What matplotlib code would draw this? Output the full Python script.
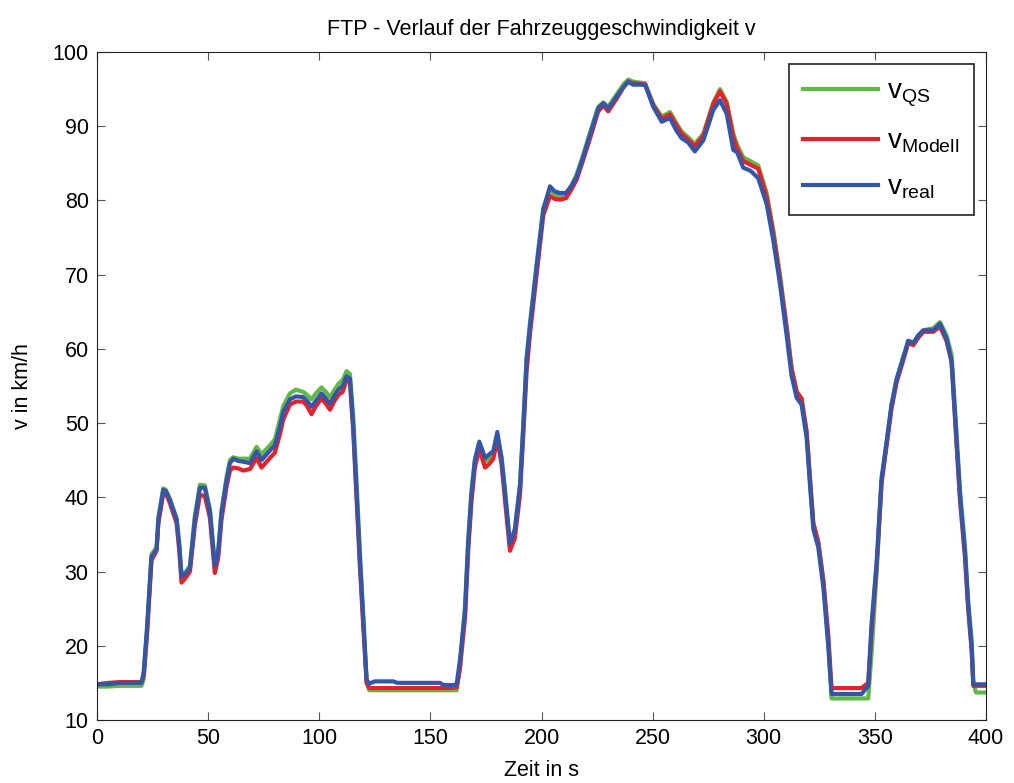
import matplotlib.pyplot as plt

plt.rcParams['font.family'] = ['Liberation Sans', 'DejaVu Sans']

# Zeitpunkte in s (gemeinsam fuer alle drei Verlaeufe)
t = [0, 5, 10, 15, 20, 21, 22.5, 24.5, 26.8, 27.6,
     29.8, 31, 32.8, 35.8, 37, 38, 40, 41.8, 44, 46.3,
     48.5, 50.8, 53, 54.5, 56, 58.3, 59.8, 61.3, 63.5, 65.8,
     68.8, 71.8, 74, 77.8, 80, 82.3, 83.8, 86.8, 89.5, 92.8,
     94.5, 96.5, 98.5, 101, 103, 104.8, 106.5, 108.6, 110.5, 112.3,
     113.8, 115.3, 116.8, 118.3, 119.8, 121.3, 122.5, 125, 133.3, 135,
     150, 154.3, 156, 160, 161.8, 163.3, 165.6, 167, 168.5, 170,
     172, 174.6, 176.5, 178.3, 180.1, 182, 183.6, 185.8, 188, 190.3,
     191.8, 193.3, 194.8, 197.8, 200.8, 203.8, 206, 208.3, 211, 213.5,
     215.8, 218.8, 222.5, 225.5, 227.8, 230, 233.8, 237, 239, 241.2,
     246.6, 250.3, 254.1, 257.8, 260.5, 263, 266, 269, 272.8, 277.3,
     280.3, 283.3, 286.3, 288, 290.8, 294, 297.5, 301.3, 304.3, 307.3,
     310.3, 312.5, 314.8, 317, 319.3, 320.8, 322.3, 324.5, 326.8, 329,
     330.5, 332, 340, 344, 347, 348.5, 350.8, 353, 355.3, 357.5,
     359.8, 362.8, 365, 367.3, 369.5, 371.8, 376.3, 379.3, 382.3, 384.5,
     386.8, 388.3, 390.5, 392, 393.5, 394.3, 395.5, 400]

v_qs = [14.5, 14.5, 14.6, 14.6, 14.6, 15.5, 22.0, 32.3, 33.3, 37.3,
        41.2, 41.0, 39.8, 37.2, 33.8, 29.6, 30.0, 30.8, 37.5, 41.7,
        41.6, 38.4, 31.0, 32.8, 38.2, 42.8, 45.0, 45.4, 45.2, 45.2,
        45.2, 46.8, 45.8, 47.0, 47.8, 50.5, 52.3, 54.0, 54.5, 54.2,
        53.8, 53.2, 54.0, 54.8, 54.2, 53.5, 54.3, 55.3, 55.8, 57.0,
        56.6, 50.8, 42.0, 32.5, 24.0, 15.0, 14.0, 14.0, 14.0, 14.0,
        14.0, 14.0, 14.0, 14.0, 14.0, 17.0, 25.5, 34.3, 41.0, 45.0,
        47.3, 44.8, 45.3, 45.8, 48.3, 45.5, 41.0, 33.5, 35.8, 41.8,
        50.0, 59.0, 63.5, 71.5, 79.0, 81.5, 80.8, 80.5, 80.8, 82.0,
        83.5, 86.2, 89.8, 92.6, 93.2, 92.6, 94.3, 95.7, 96.3, 96.0,
        95.8, 93.0, 91.3, 91.9, 90.5, 89.3, 88.5, 87.6, 89.0, 93.2,
        95.0, 93.3, 89.0, 87.5, 85.8, 85.3, 84.7, 81.0, 76.0, 70.0,
        63.0, 57.5, 54.3, 53.3, 48.8, 42.5, 36.5, 34.0, 28.8, 21.0,
        12.9, 12.9, 12.9, 12.9, 12.9, 19.0, 30.0, 42.0, 47.5, 52.5,
        56.0, 59.0, 61.0, 60.8, 61.8, 62.5, 62.8, 63.6, 61.8, 59.2,
        48.5, 41.0, 33.5, 26.0, 21.0, 15.0, 13.7, 13.7]

v_modell = [14.8, 15.0, 15.1, 15.1, 15.1, 16.0, 21.5, 31.5, 32.8, 36.5,
            40.5, 40.5, 39.2, 36.5, 32.8, 28.5, 29.2, 30.0, 36.2, 40.3,
            40.2, 37.2, 29.8, 31.8, 37.0, 41.5, 43.6, 44.0, 43.9, 43.6,
            43.8, 45.3, 44.0, 45.3, 46.0, 48.5, 50.5, 52.5, 52.9, 52.9,
            52.3, 51.2, 52.3, 53.3, 52.6, 51.8, 52.8, 53.8, 54.2, 55.8,
            55.5, 48.8, 39.5, 30.5, 22.5, 15.0, 14.3, 14.3, 14.3, 14.3,
            14.3, 14.3, 14.3, 14.3, 14.4, 17.0, 23.8, 32.8, 39.5, 44.0,
            46.5, 44.0, 44.5, 45.2, 47.8, 44.5, 39.5, 32.8, 34.5, 40.3,
            48.5, 57.0, 62.0, 70.0, 78.0, 80.6, 80.2, 80.1, 80.3, 81.5,
            82.8, 85.5, 89.0, 92.0, 92.8, 92.0, 93.7, 95.3, 96.0, 95.8,
            95.6, 92.8, 91.0, 91.6, 90.2, 89.0, 88.2, 87.3, 88.7, 93.0,
            94.7, 93.0, 88.5, 87.0, 85.3, 84.8, 84.3, 80.5, 75.5, 69.5,
            62.8, 57.3, 54.2, 53.3, 48.8, 42.5, 36.5, 34.0, 28.8, 21.5,
            14.3, 14.3, 14.3, 14.3, 15.0, 22.0, 30.8, 42.0, 47.0, 52.0,
            55.5, 58.5, 60.8, 60.5, 61.5, 62.3, 62.3, 63.0, 61.0, 58.2,
            47.0, 39.5, 32.0, 24.8, 19.5, 14.6, 14.6, 14.6]

v_real = [14.8, 14.8, 15.0, 15.0, 15.0, 16.5, 22.5, 32.0, 33.0, 37.0,
          41.0, 40.8, 39.6, 37.0, 33.5, 29.3, 29.8, 30.5, 37.0, 41.3,
          41.3, 38.0, 30.7, 32.5, 37.9, 42.3, 44.6, 45.2, 44.9, 44.8,
          44.6, 46.2, 45.0, 46.3, 47.0, 49.5, 51.5, 53.2, 53.6, 53.5,
          53.0, 52.2, 53.0, 54.0, 53.3, 52.6, 53.5, 54.5, 55.0, 56.3,
          56.0, 49.5, 40.5, 31.6, 23.5, 15.4, 14.9, 15.2, 15.2, 15.0,
          15.0, 15.0, 14.7, 14.7, 14.8, 18.1, 24.8, 33.8, 40.5, 45.0,
          47.5, 45.3, 45.8, 46.2, 48.8, 45.2, 40.5, 33.8, 35.6, 41.4,
          49.5, 58.5, 63.0, 71.1, 78.7, 81.9, 81.2, 81.0, 81.0, 82.0,
          83.2, 85.9, 89.5, 92.4, 93.1, 92.4, 94.0, 95.3, 96.0, 95.6,
          95.6, 92.6, 90.6, 91.1, 89.5, 88.4, 87.8, 86.6, 88.1, 92.2,
          93.5, 91.7, 86.8, 86.5, 84.4, 84.0, 83.0, 79.5, 74.6, 68.7,
          61.8, 56.4, 53.4, 52.5, 48.0, 41.6, 35.7, 33.3, 27.9, 20.0,
          13.5, 13.5, 13.5, 13.5, 14.6, 22.9, 31.3, 42.6, 47.5, 52.5,
          55.9, 58.8, 61.1, 60.8, 61.8, 62.5, 62.5, 63.4, 61.3, 58.4,
          47.5, 40.2, 32.8, 25.4, 20.0, 14.8, 14.8, 14.8]

fig = plt.figure(figsize=(10.14, 7.83), dpi=100)
ax = fig.add_axes([0.0957, 0.0805, 0.8767, 0.8531])

ax.plot(t, v_qs, color='#62b846', linewidth=3, label=r'$\mathregular{v_{QS}}$')
ax.plot(t, v_modell, color='#e8202a', linewidth=3, label=r'$\mathregular{v_{Modell}}$')
ax.plot(t, v_real, color='#3356a8', linewidth=3, label=r'$\mathregular{v_{real}}$')

ax.set_xlim(0, 400)
ax.set_ylim(10, 100)
ax.set_xticks(range(0, 401, 50))
ax.set_yticks(range(10, 101, 10))
ax.tick_params(direction='in', top=True, right=True, labelsize=15.5, length=6,
               color='#555555', pad=6)
for s in ax.spines.values():
    s.set_color('#222222')

ax.set_title('FTP - Verlauf der Fahrzeuggeschwindigkeit v', fontsize=15.5, pad=12)
ax.set_xlabel('Zeit in s', fontsize=15.5, labelpad=8)
ax.set_ylabel('v in km/h', fontsize=15.5, labelpad=14)

leg = ax.legend(loc='upper right', fontsize=20, fancybox=False, framealpha=1,
                edgecolor='#222222', handlelength=2.7, handletextpad=0.35,
                borderaxespad=0.45, borderpad=0.5, labelspacing=0.7)
leg.get_frame().set_linewidth(1.2)

plt.savefig('out.png', dpi=100)
